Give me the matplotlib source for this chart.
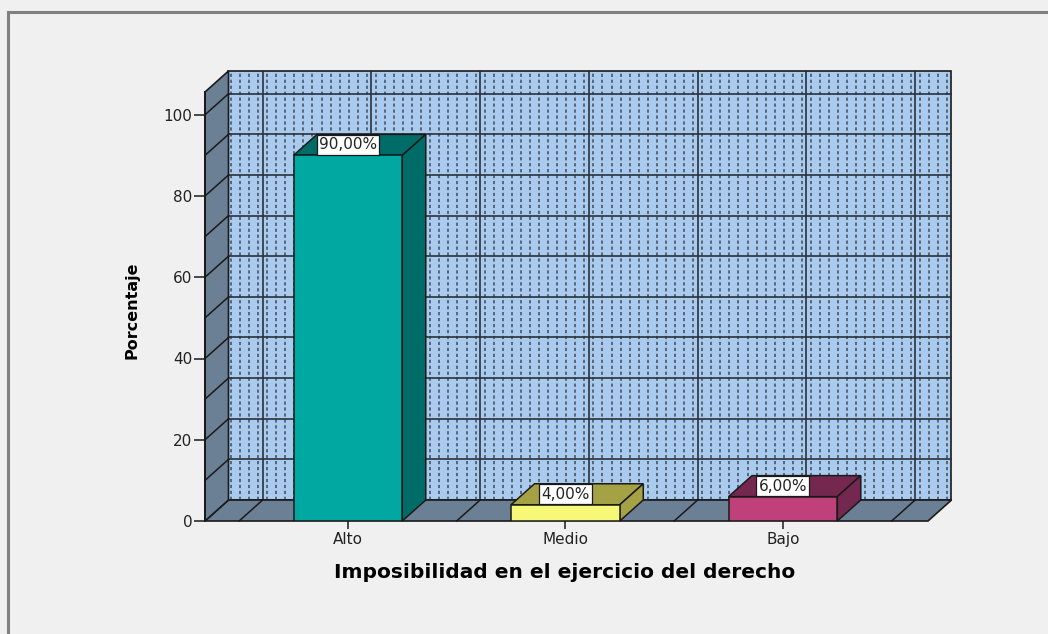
import matplotlib
matplotlib.use("Agg")
import matplotlib.pyplot as plt
from matplotlib.patches import Polygon, Rectangle
import numpy as np

categories = ["Alto", "Medio", "Bajo"]
values = [90.0, 4.0, 6.0]
labels = ["90,00%", "4,00%", "6,00%"]
yticks = [0, 20, 40, 60, 80, 100]
front_col = ["#00a8a2", "#f8f878", "#c0407c"]
dark_col = ["#006c68", "#a4a244", "#742850"]

W, H = 1048, 634
fig = plt.figure(figsize=(W / 100, H / 100), dpi=100, facecolor="#f0f0f0")

# front plane in pixels: x 205..928, y 521 (0) .. 92 (top)
x0, x1 = -0.657, 2.667
ymax = 105.6
ax = fig.add_axes([205 / W, (H - 521) / H, (928 - 205) / W, (521 - 92) / H])
ax.set_xlim(x0, x1)
ax.set_ylim(0, ymax)
ax.patch.set_visible(False)
for s in ax.spines.values():
    s.set_visible(False)

dx, dy = 0.108, 5.17      # depth offset
wall = "#aacbee"
slate = "#6b7f95"
edge = "#1a1a1a"

# back wall
ax.add_patch(Rectangle((x0 + dx, dy), x1 - x0, ymax, fc=wall, ec=edge, lw=1.2, zorder=1, clip_on=False))
# dotted minor vertical lines
step = 1 / 24
for xv in np.arange(-0.5 - 4 * step + step / 2, x1, step):
    if x0 + 0.01 < xv < x1 - 0.01:
        ax.plot([xv + dx, xv + dx], [dy, ymax + dy], ls=(0, (1.8, 1.5)), color="#4e5e72", lw=1.3,
                zorder=1.5, clip_on=False)
# major grid on back wall
for xv in np.arange(-0.5, x1, 0.5):
    ax.plot([xv + dx, xv + dx], [dy, ymax + dy], color="#2a323a", lw=1.2, zorder=2, clip_on=False)
for v in range(10, 101, 10):
    ax.plot([x0 + dx, x1 + dx], [v + dy, v + dy], color="#2a323a", lw=1.2, zorder=2, clip_on=False)

# floor
ax.add_patch(Polygon([(x0, 0), (x1, 0), (x1 + dx, dy), (x0 + dx, dy)], closed=True, fc=slate, ec=edge, lw=1.2, zorder=3, clip_on=False))
for xv in np.arange(-0.5, x1, 0.5):
    ax.plot([xv, xv + dx], [0, dy], color=edge, lw=1.1, zorder=3.1, clip_on=False)
# left wall
ax.add_patch(Polygon([(x0, 0), (x0, ymax), (x0 + dx, ymax + dy), (x0 + dx, dy)], closed=True, fc=slate, ec=edge, lw=1.2, zorder=3, clip_on=False))
for v in range(10, 101, 10):
    ax.plot([x0, x0 + dx], [v, v + dy], color=edge, lw=1.1, zorder=3.1, clip_on=False)
ax.plot([x0, x0], [0, ymax], color=edge, lw=1.4, zorder=3.2, clip_on=False)

# bars
w = 0.5
xs = np.arange(len(categories))
ax.bar(xs, values, width=w, color=front_col, edgecolor=edge, lw=1.1, zorder=5)
for c, h, dc in zip(xs, values, dark_col):
    l, r = c - w / 2, c + w / 2
    ax.add_patch(Polygon([(l, h), (r, h), (r + dx, h + dy), (l + dx, h + dy)], closed=True, fc=dc, ec=edge, lw=1.1, zorder=4, clip_on=False))
    ax.add_patch(Polygon([(r, 0), (r + dx, dy), (r + dx, h + dy), (r, h)], closed=True, fc=dc, ec=edge, lw=1.1, zorder=4, clip_on=False))
for c, h, t in zip(xs, values, labels):
    ax.text(c, h + dy / 2, t, ha="center", va="center", fontsize=11, family="DejaVu Sans", color="#222222",
            zorder=6, bbox=dict(boxstyle="square,pad=0.15", fc="white", ec=edge, lw=0.9))

# ticks
ax.set_yticks(yticks)
ax.set_yticklabels([str(v) for v in yticks], family="DejaVu Sans", fontsize=11, color="#222222")
ax.tick_params(axis="y", length=8, width=1.1, pad=1, color=edge)
ax.set_xticks(xs)
ax.set_xticklabels(categories, family="DejaVu Sans", fontsize=11, color="#222222")
ax.tick_params(axis="x", length=6, width=1.1, pad=2, color=edge)

fig.text(132 / W, 1 - 310 / H, "Porcentaje", rotation=90, ha="center", va="center", fontsize=11.5,
         fontweight="bold", family=["Liberation Sans Narrow", "DejaVu Sans"])
fig.text(565 / W, 1 - 572 / H, "Imposibilidad en el ejercicio del derecho", ha="center", va="center",
         fontsize=14.5, fontweight="bold", family="DejaVu Sans")

# outer frame
fig.patches.append(Rectangle((8 / W, -0.1), 1.2, (H - 12) / H + 0.1, transform=fig.transFigure,
                             fill=False, ec="#808080", lw=2.2, zorder=0))

fig.savefig("out.png", dpi=100, facecolor=fig.get_facecolor())
